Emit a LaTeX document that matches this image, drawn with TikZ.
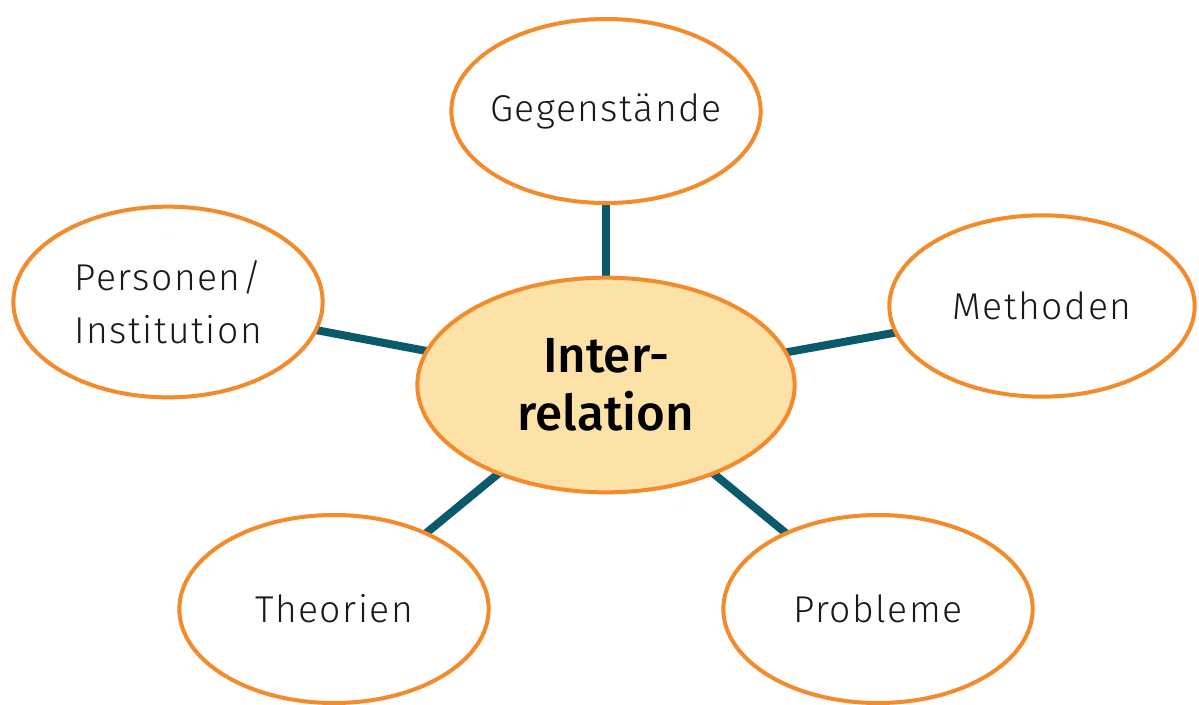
\documentclass[tikz,border=0pt]{standalone}
\usepackage{fontspec}
\setmainfont{Fira Sans}[UprightFont=* Light, BoldFont=* Medium]
\usetikzlibrary{shapes.geometric,backgrounds}
\definecolor{orng}{HTML}{F58A2A}
\definecolor{teal1}{HTML}{0A5A6B}
\definecolor{cfill}{HTML}{FDE2A8}
\tikzset{
  bubble/.style={ellipse, draw=orng, line width=3pt, fill=white, inner xsep=-40pt, inner ysep=-20pt,
    align=center, font=\fontsize{28}{40}\selectfont\addfontfeatures{LetterSpace=4}, text=black!90},
  hub/.style={ellipse, draw=orng, line width=3pt, fill=cfill, inner xsep=-40pt, inner ysep=-20pt,
    align=center, font=\fontsize{37}{43.5}\selectfont\bfseries},
  link/.style={draw=teal1, line width=6pt}
}
\begin{document}
\begin{tikzpicture}[x=0.75pt,y=-0.75pt]
\useasboundingbox (0,0) rectangle (1199,704);
\node[hub, minimum width=283pt, minimum height=161pt] (c) at (606,385) {Inter-\\relation};
\node[bubble, minimum width=232pt, minimum height=138pt] (g) at (606,111) {Gegenstände};
\node[bubble, minimum width=229pt, minimum height=136pt] (m) at (1042,306) {Methoden};
\node[bubble, minimum width=232pt, minimum height=143pt] (p) at (168,302) {Personen/\\Institution};
\node[bubble, minimum width=232pt, minimum height=141pt] (t) at (334,609) {Theorien};
\node[bubble, minimum width=232pt, minimum height=141pt] (r) at (878,609) {Probleme};
\begin{scope}[on background layer]
\draw[link] (c.center) -- (g.center);
\draw[link] (c.center) -- (m.center);
\draw[link] (c.center) -- (p.center);
\draw[link] (c.center) -- (t.center);
\draw[link] (c.center) -- (r.center);
\end{scope}
\end{tikzpicture}
\end{document}
